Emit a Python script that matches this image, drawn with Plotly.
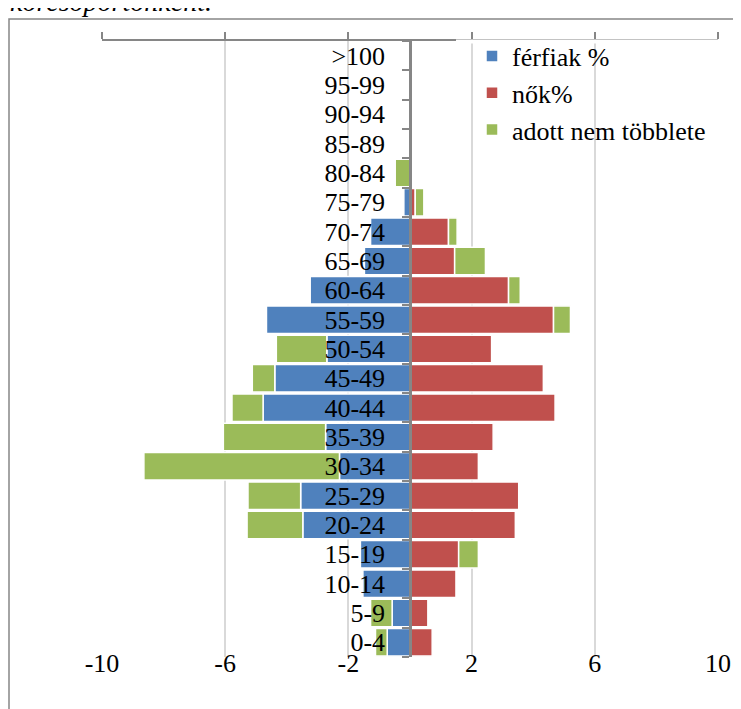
import plotly.graph_objects as go

categories = ["0-4", "5-9", "10-14", "15-19", "20-24", "25-29", "30-34", "35-39",
              "40-44", "45-49", "50-54", "55-59", "60-64", "65-69", "70-74",
              "75-79", "80-84", "85-89", "90-94", "95-99", ">100"]
men = [-0.74, -0.58, -1.53, -1.61, -3.48, -3.55, -2.29, -2.74, -4.77, -4.39, -2.70,
       -4.66, -3.24, -1.48, -1.28, -0.20, 0, 0, 0, 0, 0]
women = [0.72, 0.58, 1.50, 1.58, 3.42, 3.53, 2.22, 2.70, 4.71, 4.33, 2.65,
         4.66, 3.20, 1.45, 1.25, 0.17, 0, 0, 0, 0, 0]
excess = [-0.38, -0.70, 0, 0.64, -1.81, -1.71, -6.35, -3.32, -1.01, -0.73, -1.64,
          0.55, 0.38, 1.00, 0.28, 0.28, -0.48, 0, 0, 0, 0]
x_ticks = [-10, -6, -2, 2, 6, 10]
x_tick_labels = ["-10", "-6", "-2", "2", "6", "10"]
series_names = ["férfiak %", "nők%", "adott nem többlete"]
colors = ["#4F81BD", "#C0504D", "#9BBB59"]

FONT = "Times New Roman, Liberation Serif, DejaVu Serif, serif"
OFF = 8                      # default page margin around the figure
W, H = 741 - OFF, 709 - OFF
ML, MT = 102 - OFF, 41 - OFF
PW, PH = 616, 616
MR, MB = W - ML - PW, H - MT - PH

fig = go.Figure()
for name, vals, col in zip(series_names, [men, women, excess], colors):
    fig.add_trace(go.Bar(
        y=categories, x=vals, name=name, orientation="h",
        marker=dict(color=col, line=dict(color="white", width=1.5)),
    ))

# dummy trace so the top axis line is drawn
fig.add_trace(go.Scatter(x=[None], y=[None], xaxis="x2", showlegend=False,
                         hoverinfo="skip", mode="markers"))

fig.update_layout(
    width=W, height=H,
    margin=dict(l=ML, r=MR, t=MT, b=MB, pad=0, autoexpand=False),
    barmode="relative",
    bargap=0.06,
    plot_bgcolor="white",
    paper_bgcolor="white",
    font=dict(family=FONT, size=26, color="black"),
    xaxis=dict(
        range=[-10, 10], tickmode="array", tickvals=x_ticks, ticktext=x_tick_labels,
        showgrid=True, gridcolor="#D9D9D9", gridwidth=1.5,
        zeroline=False, showline=False, ticks="", automargin=False,
        tickfont=dict(family=FONT, size=26, color="black"),
        ticklabelstandoff=-12,
    ),
    xaxis2=dict(
        range=[-10, 10], overlaying="x", side="top", matches="x",
        tickmode="array", tickvals=x_ticks, automargin=False,
        showticklabels=False, showgrid=False, zeroline=False,
        showline=True, linecolor="#868686", linewidth=2,
        ticks="outside", ticklen=7, tickcolor="#868686", tickwidth=2,
    ),
    yaxis=dict(
        type="category", categoryorder="array", categoryarray=categories,
        tickmode="linear", dtick=1, tick0=0, range=[-0.5, 20.5],
        anchor="free", position=0.5, side="left", automargin=False,
        showline=True, linecolor="#868686", linewidth=2.5,
        ticks="outside", tickson="boundaries", ticklen=7, tickcolor="#868686", tickwidth=2,
        showgrid=False, zeroline=False,
        tickfont=dict(family=FONT, size=26, color="black"),
        ticklabelstandoff=19,
    ),
    legend=dict(
        x=(472 - OFF - ML) / PW, y=1 + (MT - (32.5 - OFF)) / PH,
        xanchor="left", yanchor="top",
        bgcolor="rgba(0,0,0,0)", borderwidth=0,
        font=dict(family=FONT, size=26, color="black"),
    ),
    showlegend=True,
)

# outer chart frame
fig.add_shape(type="rect", xref="paper", yref="paper",
              x0=(1 - ML) / PW, x1=1.2,
              y0=-0.2, y1=1 + (MT - (19 - OFF)) / PH,
              line=dict(color="#868686", width=1.5), layer="below")

# the legend box hides the top axis line on its right part
fig.add_shape(type="rect", xref="paper", yref="paper",
              x0=(456 - OFF - ML) / PW, x1=1.03,
              y0=1 - 2.5 / PH, y1=1 + 1.5 / PH,
              line=dict(width=0), fillcolor="white", layer="above")

# partially visible caption at the very top
fig.add_annotation(text="<i>korcsoportonként.</i>", xref="paper", yref="paper",
                   x=(0 - ML) / PW, y=1, xanchor="left", yanchor="bottom",
                   yshift=MT - (19 - OFF), showarrow=False,
                   font=dict(family=FONT, size=28, color="black"))

fig.write_html("out.html")
